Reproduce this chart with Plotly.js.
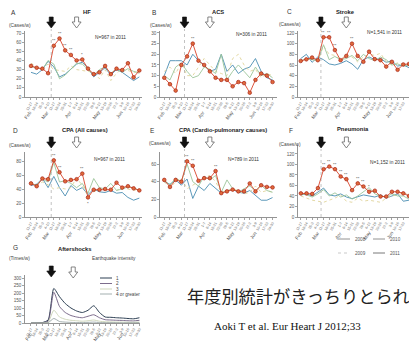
<!DOCTYPE html>
<html><head><meta charset="utf-8">
<script src="https://cdn.plot.ly/plotly-3.0.1.min.js"></script>
<style>html,body{margin:0;padding:0;background:#fff}#chart{width:409px;height:344px}</style>
</head><body><div id="chart"></div>
<script>
// ---------- data ----------
const weekLabels = ["11-17","18-24","25-3","4-10","11-17","18-24","25-31","1-7","8-14","15-21","22-28","29-5","6-12","13-19","20-26","27-2","3-9","10-16","17-23","24-30"];
const monthLabels = ["Feb","Mar","Apr","May","Jun"];
const monthWeekIndex = [0,3,7,12,16];
const years = ["2008","2009","2010","2011"];

const hf2008 = [27,25,30,39,33,22,25,30,36,38,32,22,27,32,24,30,27,22,18,22];
const hf2009 = [37,33,31,36,30,29,28,34,30,29,28,27,20,30,18,26,31,29,27,28];
const hf2010 = [33,32,30,40,36,20,24,30,37,36,30,24,30,33,26,31,27,31,28,26];
const hf2011 = [34,32,31,26,56,64,51,46,40,41,31,25,27,34,25,31,29.5,37,21.5,29];
const sigHF  = ["","","","","**","**","**","**","","*","","","","","","","","","",""];

const acs2008 = [10,17,17,17,15,20,17,15,12,13,20,12,15,11,13,14,18,12,9,8];
const acs2009 = [12,14,11,16,10,10,14,18,15,12,11,10,18,20,15,12,13,9,11,10];
const acs2010 = [10,8,14,16,12,9,10,14,13,11,20,8,12,15,12,9,14,10,11,9];
const acs2011 = [9,6,3,15,19,25,17,15,12,9,8,8,5,7,6.5,2,8,11,10,7];
const sigACS  = ["","","","","","**","","","","","","","","","","","","","",""];

const stroke2008 = [72,80,65,75,70,62,60,63,68,62,52,70,75,70,72,65,68,58,60,55];
const stroke2009 = [66,70,72,66,96,80,78,70,80,75,66,75,80,78,82,66,60,64,62,60];
const stroke2010 = [68,72,70,68,98,70,76,70,72,78,68,80,72,68,75,70,60,62,58,60];
const stroke2011 = [67.5,70.6,74,69,112,112,88,69,77,100,77,66,85,71,69,57,66,51,61,62];
const sigStroke  = ["","","","","**","**","**","","","**","","","","","","","","","",""];

const cpaAll2008 = [45,47,55,42,58,42,30,45,38,42,32,40,36,35,38,34,35,28,24,27];
const cpaAll2009 = [50,45,50,46,40,42,40,42,56,45,30,36,40,38,40,38,42,40,38,40];
const cpaAll2010 = [47,46,54,50,78,50,52,48,42,48,34,55,42,40,48,38,40,43,42,38];
const cpaAll2011 = [48,44,55,54,81,64,51,53,54,62,28,39,39,40,39,49,42,44,41,38];
const sigCpaAll  = ["","","","","**","**","","","","**","","","","","","","","","",""];
const sigCpaAllBelow = ["","","","","","","","","","","*","","","","","","","","",""];

const cpaCp2008 = [40,37,42,36,43,21,35,30,38,33,27,30,31,28,27,30,25,19,19,22];
const cpaCp2009 = [40,33,40,44,32,36,40,45,47,40,28,30,32,30,26,28,35,28,30,28];
const cpaCp2010 = [42,36,44,40,60,40,35,46,42,47,28,42,32,28,32,35,30,36,30,28];
const cpaCp2011 = [42,34,42,40,63,58,41,44,44,52,27,29,31,29,29,38,29,36,34,33.5];
const sigCpaCp  = ["","","","","**","**","","","","**","","","","","","","","","",""];

const pneu2008 = [42,44,40,48,55,42,40,44,38,35,38,42,40,38,42,36,40,44,30,32];
const pneu2009 = [40,36,32,30,28,32,36,42,30,28,36,30,32,30,28,36,40,42,46,42];
const pneu2010 = [44,42,38,44,52,40,46,38,42,34,40,48,56,44,40,38,44,40,40,34];
const pneu2011 = [45,45,44,55,91,96,91,77,72,51,64,58,48,50,39,39,48,48,45,40];
const sigPneu  = ["","","","","**","**","**","**","**","","**","**","*","","","","","","",""];

const intensityLabels = ["1","2","3","4 or greater"];
const shock1 = [0,0,3,20,230,175,130,100,80,70,85,115,70,40,38,35,33,30,28,35];
const shock2 = [0,0,2,12,205,110,70,50,40,35,45,55,35,22,20,18,17,15,14,18];
const shock3 = [0,0,1,5,85,40,25,18,15,12,15,20,12,8,7,6,6,5,5,6];
const shock4 = [0,0,0,2,30,10,6,4,3,3,4,6,3,2,2,2,1,1,1,2];

const eqWeek = 3.55;     // March 11 earthquake
const openWeek = 8.0;    // open arrow

// ---------- layout helpers ----------
const W = 409, H = 344;
const FONT = "Liberation Sans, Arial, sans-serif";
const px = v => v / W;
const py = v => 1 - v / H;
const weekIdx = weekLabels.map((_, i) => i);

const yearStyle = [
  {color:"#4a8db2", width:0.9, dash:"solid"},
  {color:"#e0d49a", width:0.9, dash:"dot"},
  {color:"#9cc59a", width:0.9, dash:"solid"},
  {color:"#d9442a", width:0.9, dash:"solid"}
];

const panels = [
  {letter:"A", title:"HF", n:"N=967 in 2011", unit:"(Cases/w)", data:[hf2008,hf2009,hf2010,hf2011], sig:sigHF,
   x:[25,142], y:[31,97], xr:[-1.05,19.47], yr:[0,72.2], tv:[0,10,20,30,40,50,60,70],
   letterPos:[9,13], titlePos:[87,12], unitPos:[7,25], nPos:[110,38], arrowY:17},
  {letter:"B", title:"ACS", n:"N=306 in 2011", unit:"(Cases/w)", data:[acs2008,acs2009,acs2010,acs2011], sig:sigACS,
   x:[160,277], y:[31,97], xr:[-0.75,19.78], yr:[0,30.9], tv:[0,5,10,15,20,25,30],
   letterPos:[150,13], titlePos:[218,12], unitPos:[148,25], nPos:[252,35], arrowY:17},
  {letter:"C", title:"Stroke", n:"N=1,541 in 2011", unit:"(Cases/w)", data:[stroke2008,stroke2009,stroke2010,stroke2011], sig:sigStroke,
   x:[298,409], y:[31,97], xr:[-0.47,19.0], yr:[0,123.75], tv:[0,20,40,60,80,100,120],
   letterPos:[285,12], titlePos:[345,12], unitPos:[277,24], nPos:[384,33], arrowY:17},
  {letter:"D", title:"CPA (All causes)", n:"N=967 in 2011", unit:"(Cases/w)", data:[cpaAll2008,cpaAll2009,cpaAll2010,cpaAll2011], sig:sigCpaAll, below:sigCpaAllBelow,
   x:[25,142], y:[152,217], xr:[-1.05,19.47], yr:[0,92.9], tv:[0,20,40,60,80],
   letterPos:[11,130], titlePos:[85,130], unitPos:[7,145], nPos:[109,160], arrowY:137},
  {letter:"E", title:"CPA (Cardio-pulmonary causes)", n:"N=789 in 2011", unit:"(Cases/w)", data:[cpaCp2008,cpaCp2009,cpaCp2010,cpaCp2011], sig:sigCpaCp,
   x:[160,277], y:[152,217], xr:[-0.75,19.78], yr:[0,73.6], tv:[0,20,40,60],
   letterPos:[148,130], titlePos:[223,130], unitPos:[147,143], nPos:[243,160], arrowY:137},
  {letter:"F", title:"Pneumonia", n:"N=1,152 in 2011", unit:"(Cases/w)", data:[pneu2008,pneu2009,pneu2010,pneu2011], sig:sigPneu,
   x:[298,409], y:[145,217], xr:[-0.5,19.0], yr:[0,137], tv:[0,20,40,60,80,100,120],
   letterPos:[287,130], titlePos:[353,129], unitPos:[277,144], nPos:[387,163], arrowY:137}
];

const traces = [];
const layout = {
  width:W, height:H, margin:{l:0,r:0,t:0,b:0},
  paper_bgcolor:"#fff", plot_bgcolor:"rgba(0,0,0,0)",
  showlegend:false, font:{family:FONT, color:"#333", size:5},
  annotations:[], shapes:[]
};

function axisPair(k, xDom, yDom, xr, yr, tv){
  const s = k === 0 ? "" : String(k+1);
  layout["xaxis"+s] = {
    domain:[px(xDom[0]), px(xDom[1])], range:xr, anchor:"y"+s,
    tickmode:"array", tickvals:weekIdx, ticktext:weekLabels, tickangle:-60,
    tickfont:{size:3.6, color:"#666"}, ticks:"outside", ticklen:2, tickwidth:0.6, tickcolor:"#666",
    showline:true, linecolor:"#666", linewidth:0.7, showgrid:false, zeroline:false, fixedrange:true
  };
  layout["yaxis"+s] = {
    domain:[py(yDom[1]), py(yDom[0])], range:yr, anchor:"x"+s,
    tickmode:"array", tickvals:tv, tickfont:{size:4.6, color:"#555"},
    ticks:"outside", ticklen:2, tickwidth:0.6, tickcolor:"#666",
    showline:true, linecolor:"#666", linewidth:0.7, showgrid:false, zeroline:false, fixedrange:true
  };
  return s;
}

function monthAnnotations(s, bottomPx, off){
  monthLabels.forEach((m, i) => {
    layout.annotations.push({
      x:monthWeekIndex[i]-0.4, xref:"x"+s, y:py(bottomPx+off), yref:"paper",
      text:m, showarrow:false, textangle:-55, font:{size:4.8, color:"#555"},
      xanchor:"center", yanchor:"middle"
    });
  });
}

function ann(text, xPx, yPx, opts){
  layout.annotations.push(Object.assign({
    x:px(xPx), y:py(yPx), xref:"paper", yref:"paper", text:text, showarrow:false,
    xanchor:"center", yanchor:"middle", font:{size:6, color:"#222"}
  }, opts||{}));
}

// block arrow pointing down, top at (cx, top) in pixels
function arrowShape(cx, top, filled){
  const pts = [[cx-2,top],[cx+2,top],[cx+2,top+5],[cx+4.5,top+5],[cx,top+11],[cx-4.5,top+5],[cx-2,top+5]];
  const path = "M" + pts.map(p => px(p[0]).toFixed(5)+","+py(p[1]).toFixed(5)).join(" L") + " Z";
  layout.shapes.push({type:"path", xref:"paper", yref:"paper", path:path,
    fillcolor: filled ? "#111" : "#fff", line:{color: filled ? "#111" : "#666", width: filled ? 0.6 : 0.8}});
}
function idxToPx(xDom, xr, idx){
  return xDom[0] + (idx - xr[0]) / (xr[1] - xr[0]) * (xDom[1] - xDom[0]);
}

panels.forEach((p, k) => {
  const s = axisPair(k, p.x, p.y, p.xr, p.yr, p.tv);
  p.data.forEach((vals, j) => {
    const st = yearStyle[j];
    const tr = {
      type:"scatter", x:weekIdx, y:vals, xaxis:"x"+s, yaxis:"y"+s, name:years[j],
      mode: j === 3 ? "lines+markers" : "lines",
      line:{color:st.color, width:st.width, dash:st.dash}, hoverinfo:"skip"
    };
    if (j === 3) tr.marker = {size:3.6, color:"#e06a3a", line:{color:"#a82418", width:0.7}};
    traces.push(tr);
  });
  const v2011 = p.data[3];
  p.sig.forEach((t, i) => {
    if (t) layout.annotations.push({x:i, y:v2011[i], xref:"x"+s, yref:"y"+s, text:t, showarrow:false,
      yshift:5, font:{size:4.2, color:"#333"}});
  });
  if (p.below) p.below.forEach((t, i) => {
    if (t) layout.annotations.push({x:i, y:v2011[i], xref:"x"+s, yref:"y"+s, text:t, showarrow:false,
      yshift:-6, font:{size:4.2, color:"#333"}});
  });
  ann(p.letter, p.letterPos[0], p.letterPos[1], {xanchor:"left", font:{size:6.5, color:"#333"}});
  ann("<b>"+p.title+"</b>", p.titlePos[0], p.titlePos[1], {font:{size:5.8, color:"#222"}});
  ann(p.unit, p.unitPos[0], p.unitPos[1], {xanchor:"left", font:{size:4.8, color:"#444"}});
  ann(p.n, p.nPos[0], p.nPos[1], {font:{size:4.8, color:"#333"}});
  arrowShape(idxToPx(p.x, p.xr, eqWeek), p.arrowY, true);
  arrowShape(idxToPx(p.x, p.xr, openWeek), p.arrowY, false);
  layout.shapes.push({type:"line", xref:"x"+s, yref:"paper", x0:eqWeek, x1:eqWeek,
    y0:py(p.y[1]), y1:py(p.arrowY+12), line:{color:"#999", width:0.6, dash:"dot"}});
  monthAnnotations(s, p.y[1], 18);
});

// ---------- panel G ----------
const gIdx = panels.length;
const gX = [25,140], gXr = [-1.05,19.1];
const gs = axisPair(gIdx, gX, [275,323], gXr, [0,320], [0,50,100,150,200,250,300]);
const shockData = [shock1, shock2, shock3, shock4];
const shockStyle = [
  {color:"#2c3e52", width:1.0},
  {color:"#6e5c80", width:0.9},
  {color:"#c9d3b4", width:0.9},
  {color:"#7d8c8c", width:0.7}
];
shockData.forEach((vals, j) => {
  traces.push({type:"scatter", mode:"lines", x:weekIdx, y:vals, xaxis:"x"+gs, yaxis:"y"+gs,
    name:intensityLabels[j], line:{color:shockStyle[j].color, width:shockStyle[j].width, shape:"spline", smoothing:0.6},
    hoverinfo:"skip"});
});
ann("G", 11, 248, {xanchor:"left", font:{size:6.5, color:"#333"}});
ann("<b>Aftershocks</b>", 75, 249, {font:{size:5.8, color:"#222"}});
ann("(Times/w)", 7, 258, {xanchor:"left", font:{size:4.8, color:"#444"}});
ann("Earthquake intensity", 90, 258, {xanchor:"left", font:{size:4.8, color:"#444"}});
arrowShape(idxToPx(gX, gXr, eqWeek), 266, true);
arrowShape(idxToPx(gX, gXr, openWeek-0.6), 267, false);
monthAnnotations(gs, 323, 13);
const gLegY = [278, 283.5, 289, 294];
intensityLabels.forEach((lab, j) => {
  layout.shapes.push({type:"line", xref:"paper", yref:"paper", x0:px(100), x1:px(112), y0:py(gLegY[j]), y1:py(gLegY[j]),
    line:{color:shockStyle[j].color, width:shockStyle[j].width}});
  ann(lab, 114, gLegY[j], {xanchor:"left", font:{size:4.6, color:"#444"}});
});

// ---------- year legend (manual) ----------
const legPos = [[338,239],[338,253],[373,239],[373,253]];
years.forEach((yr, j) => {
  const [lx, ly] = legPos[j];
  layout.shapes.push({type:"line", xref:"paper", yref:"paper", x0:px(lx), x1:px(lx+12), y0:py(ly), y1:py(ly),
    line:{color:j===1?"#bbb":(j===3?"#555":"#777"), width:0.8, dash:yearStyle[j].dash}});
  ann(yr, lx+15, ly, {xanchor:"left", font:{size:4.6, color:"#555"}});
});

// ---------- slide text ----------
ann("年度別統計がきっちりとられ", 185, 295, {xanchor:"left",
  font:{size:17.2, color:"#222", family:"Noto Sans CJK JP"}});
ann("Aoki T et al. Eur Heart J 2012;33", 212, 326, {xanchor:"left",
  font:{size:11, color:"#111", family:"Liberation Serif, Times New Roman, serif"}});

Plotly.newPlot("chart", traces, layout, {displayModeBar:false, staticPlot:true});
</script></body></html>
